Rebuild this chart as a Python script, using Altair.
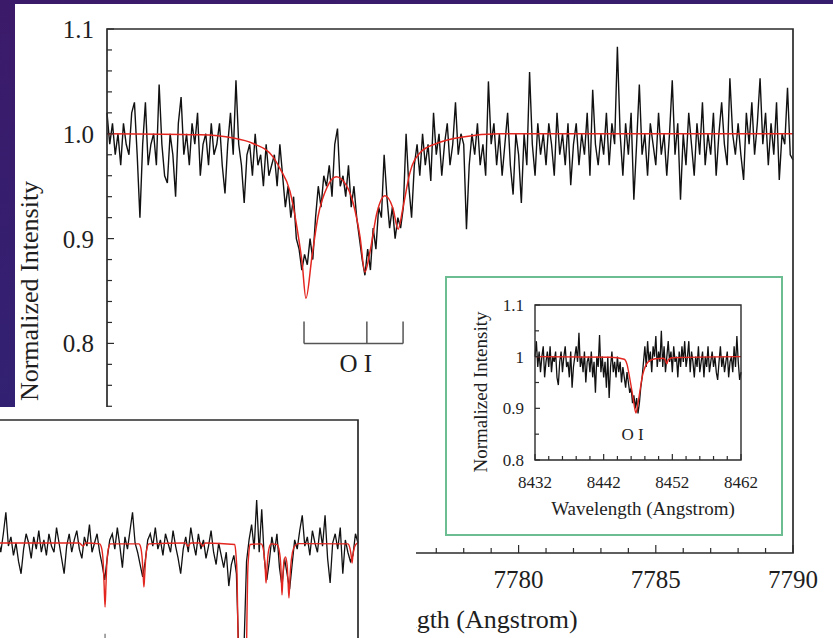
import altair as alt
import numpy as np
import pandas as pd

W, H = 833, 638
SERIF = "Liberation Serif"
INK = "#1e1e1e"
FRAME = "#2b2b2b"
RED = "#e3261f"

# ---------------- main panel: O I 7772-7775 triplet ----------------
MAIN_START, MAIN_STEP = 7765.0, 0.1
main_flux = [
    1.02, 0.99, 1.01, 0.98, 1.00, 0.97, 1.01, 0.99, 0.98, 1.02,
    1.03, 0.98, 0.92, 0.99, 1.03, 0.97, 0.99, 1.00, 0.97, 1.047,
    0.99, 0.96, 0.953, 1.00, 0.98, 0.94, 1.01, 1.035, 0.98, 1.00,
    0.97, 1.01, 0.99, 1.02, 0.96, 0.99, 1.00, 0.97, 1.01, 0.98,
    0.99, 1.01, 0.97, 0.943, 0.99, 1.02, 0.98, 1.051, 0.99, 0.97,
    0.934, 0.98, 0.99, 0.96, 1.00, 0.97, 0.98, 0.95, 0.99, 0.96,
    0.97, 0.98, 0.95, 0.99, 0.96, 0.93, 0.95, 0.92, 0.94, 0.90,
    0.89, 0.87, 0.885, 0.875, 0.90, 0.88, 0.92, 0.95, 0.93, 0.96,
    0.95, 0.97, 0.94, 0.99, 1.005, 0.95, 0.96, 0.94, 0.97, 0.93,
    0.95, 0.92, 0.90, 0.88, 0.865, 0.89, 0.87, 0.91, 0.89, 0.93,
    0.92, 0.98, 0.94, 0.91, 0.93, 0.90, 0.92, 0.91, 0.93, 1.00,
    0.95, 0.92, 0.97, 0.99, 0.96, 1.00, 0.97, 0.99, 0.955, 1.02,
    0.98, 1.00, 0.96, 0.99, 1.01, 0.97, 0.99, 1.03, 0.98, 1.00,
    0.99, 0.909, 0.97, 1.00, 0.98, 1.01, 0.97, 0.99, 0.96, 1.05,
    0.99, 1.01, 0.97, 1.00, 0.96, 0.99, 1.02, 0.97, 0.942, 1.00,
    0.98, 0.934, 1.00, 0.97, 1.059, 0.99, 0.96, 1.01, 0.98, 1.00,
    0.97, 1.01, 0.99, 0.96, 1.02, 0.98, 1.00, 0.97, 1.01, 0.951,
    0.99, 1.01, 0.97, 1.00, 0.98, 1.02, 0.96, 1.042, 0.99, 0.97,
    1.00, 0.98, 1.02, 0.97, 1.01, 0.99, 1.083, 1.00, 0.96, 1.01,
    0.98, 1.02, 0.937, 0.99, 1.047, 0.98, 1.00, 0.96, 1.01, 0.99,
    0.97, 1.02, 0.98, 1.00, 0.96, 1.00, 1.051, 0.98, 1.01, 0.937,
    1.00, 0.97, 1.02, 0.99, 0.96, 1.01, 0.98, 1.03, 0.97, 1.00,
    0.98, 1.02, 0.96, 1.00, 1.03, 0.99, 0.97, 1.053, 1.00, 0.98,
    1.01, 0.98, 0.956, 1.02, 0.99, 1.03, 0.98, 1.01, 1.053, 0.99,
    1.02, 0.97, 1.01, 0.98, 1.03, 0.956, 1.00, 0.99, 1.044, 0.98, 0.975,
]
main_model_wl = [
    7765.0, 7768.4, 7769.6, 7770.3, 7771.05, 7771.3, 7771.67, 7771.92, 7772.11,
    7772.25, 7772.47, 7772.69, 7773.02, 7773.35, 7773.67, 7773.97, 7774.22,
    7774.4, 7774.58, 7774.84, 7775.13, 7775.42, 7775.61, 7775.79, 7776.04,
    7776.41, 7777.03, 7777.97, 7779.3, 7790.0,
]
main_model_flux = [
    1.0, 0.999, 0.996, 0.991, 0.978, 0.967, 0.945, 0.911, 0.877,
    0.843, 0.883, 0.921, 0.949, 0.959, 0.953, 0.934, 0.902,
    0.868, 0.887, 0.925, 0.941, 0.929, 0.909, 0.930, 0.963,
    0.982, 0.991, 0.997, 1.0, 1.0,
]
main_y_major = [0.6, 0.7, 0.8, 0.9, 1.0, 1.1]
main_y_labels = ["0.6", "0.7", "0.8", "0.9", "1.0", "1.1"]
main_y_minor = [0.62, 0.64, 0.66, 0.68, 0.72, 0.74, 0.76, 0.78, 0.82, 0.84, 0.86,
                0.88, 0.92, 0.94, 0.96, 0.98, 1.02, 1.04, 1.06, 1.08]
main_x_major = [7765, 7770, 7775, 7780, 7785, 7790]
main_x_labels = ["7765", "7770", "7775", "7780", "7785", "7790"]
main_x_minor = [7766, 7767, 7768, 7769, 7771, 7772, 7773, 7774, 7776, 7777, 7778,
                7779, 7781, 7782, 7783, 7784, 7786, 7787, 7788, 7789]
oi_main_lines = [7772.18, 7774.47, 7775.79]

# ---------------- inset: O I 8446 ----------------
INSET_START, INSET_STEP = 8432.0, 0.2
inset_flux = [
    1.00, 1.03, 0.98, 1.01, 0.97, 1.00, 1.02, 0.96, 0.99, 1.01,
    0.98, 1.02, 0.97, 1.00, 0.99, 1.01, 0.96, 0.945, 0.99, 1.01,
    0.97, 1.00, 1.02, 0.98, 0.99, 0.96, 1.01, 0.94, 0.98, 1.00,
    1.02, 0.99, 1.046, 0.98, 1.00, 0.97, 1.01, 0.95, 0.99, 1.00,
    0.97, 1.01, 0.96, 0.99, 0.93, 1.00, 0.98, 1.042, 0.97, 1.00,
    0.96, 0.99, 0.94, 1.00, 0.92, 0.98, 1.01, 0.97, 0.99, 0.96,
    1.00, 0.97, 0.99, 0.95, 0.98, 0.96, 0.94, 0.97, 0.95, 0.93,
    0.94, 0.91, 0.925, 0.90, 0.92, 0.89, 0.91, 0.94, 0.96, 0.99,
    1.02, 0.98, 1.03, 0.99, 1.01, 0.97, 1.02, 1.00, 1.04, 0.98,
    1.01, 0.99, 1.05, 0.98, 1.02, 0.97, 1.00, 1.03, 0.99, 1.01,
    0.97, 1.02, 0.99, 1.00, 0.96, 1.01, 0.98, 1.02, 0.99, 1.03,
    0.98, 1.00, 1.03, 0.97, 1.01, 0.99, 0.96, 1.00, 0.98, 1.02,
    0.97, 0.99, 1.01, 0.96, 1.00, 0.98, 1.02, 0.97, 0.99, 1.01,
    0.98, 1.00, 0.97, 0.955, 0.99, 1.02, 0.98, 1.00, 0.97, 0.99,
    1.01, 0.96, 0.99, 1.00, 0.97, 1.02, 0.98, 1.04, 0.99, 0.955, 0.97,
]
inset_model_wl = [8432.0, 8443.0, 8445.0, 8445.4, 8445.8, 8446.1, 8446.4, 8446.7,
                  8447.0, 8447.3, 8447.6, 8447.9, 8448.5, 8449.5, 8450.7, 8451.0,
                  8451.2, 8451.4, 8452.0, 8462.0]
inset_model_flux = [1.0, 0.999, 0.995, 0.985, 0.958, 0.935, 0.91, 0.891,
                    0.91, 0.935, 0.96, 0.975, 0.99, 0.996, 0.997, 0.993,
                    0.986, 0.994, 0.998, 1.0]
inset_y_major = [0.8, 0.9, 1.0, 1.1]
inset_y_labels = ["0.8", "0.9", "1", "1.1"]
inset_y_minor = [0.85, 0.95, 1.05]
inset_x_major = [8432, 8442, 8452, 8462]
inset_x_labels = ["8432", "8442", "8452", "8462"]
inset_x_minor = [8434, 8436, 8438, 8440, 8444, 8446, 8448, 8450, 8454, 8456, 8458, 8460]

# ---------------- lower panel: wider spectral window ----------------
LOW_START, LOW_STEP = 5871.6, 0.2
low_flux = [
    1.01, 0.97, 1.03, 1.10, 0.99, 1.02, 0.96, 1.00, 0.94, 0.90,
    0.98, 1.03, 1.00, 0.95, 1.02, 0.98, 1.04, 0.97, 1.01, 0.96,
    1.03, 0.99, 0.97, 1.05, 1.00, 0.95, 0.90, 0.99, 1.03, 0.97,
    1.01, 1.04, 0.98, 0.95, 1.02, 0.99, 1.06, 0.97, 1.00, 1.03,
    0.97, 0.93, 0.88, 0.95, 1.01, 1.03, 0.98, 1.05, 0.99, 0.92,
    1.02, 0.98, 1.04, 1.10, 1.00, 0.97, 0.93, 0.89, 0.94, 1.01,
    1.03, 0.99, 1.05, 0.98, 1.01, 0.96, 1.03, 1.00, 0.97, 1.04,
    0.99, 0.95, 0.90, 0.98, 1.02, 0.97, 1.05, 1.00, 0.96, 1.03,
    0.98, 1.01, 0.95, 0.99, 1.04, 0.97, 0.93, 1.00, 0.96, 0.92,
    0.97, 0.86, 0.93, 0.96, 0.90, 0.62, 0.42, 0.66, 0.94, 1.01,
    1.06, 0.98, 1.14, 0.97, 1.11, 0.95, 0.88, 0.94, 1.02, 0.97,
    1.03, 0.92, 0.86, 0.95, 0.90, 0.85, 0.93, 1.01, 0.98, 1.04,
    1.09, 0.99, 1.02, 0.96, 1.04, 1.00, 0.97, 1.05, 0.99, 1.09,
    0.95, 0.87, 1.00, 1.03, 0.98, 1.05, 0.90, 1.01, 0.97, 0.94,
    0.96, 1.03, 1.00,
]
low_model_wl = [
    5870.0, 5878.0, 5878.29, 5878.5,
    5879.6, 5879.75, 5879.88, 5879.96, 5880.03, 5880.10, 5880.18, 5880.31, 5880.46,
    5882.7, 5882.85, 5882.97, 5883.04, 5883.1, 5883.16, 5883.23, 5883.35, 5883.5,
    5886.35, 5886.58, 5886.8, 5887.55, 5887.76, 5887.95,
    5890.27, 5890.37, 5890.45, 5890.53, 5890.62, 5890.75, 5890.87, 5890.99,
    5891.12, 5891.21, 5891.29, 5891.37, 5891.47,
    5892.35, 5892.5, 5892.62, 5892.69, 5892.74, 5892.8, 5892.87, 5892.99, 5893.15,
    5893.6, 5893.78, 5893.9, 5893.95, 5894.0, 5894.06, 5894.13, 5894.27, 5894.4,
    5894.47, 5894.55, 5894.62, 5894.7, 5894.83, 5895.0, 5895.3,
    5899.2, 5899.35, 5899.46, 5899.53, 5899.6, 5899.71, 5899.86, 5900.0,
]
low_model_flux = [
    1.0, 1.0, 0.99, 1.0,
    0.997, 0.985, 0.94, 0.86, 0.792, 0.86, 0.94, 0.985, 0.997,
    0.997, 0.985, 0.945, 0.895, 0.857, 0.895, 0.945, 0.985, 0.997,
    1.0, 0.99, 1.0, 1.0, 0.99, 1.0,
    0.995, 0.96, 0.90, 0.69, 0.45, 0.25, 0.2, 0.25,
    0.45, 0.69, 0.90, 0.96, 0.995,
    0.997, 0.985, 0.95, 0.905, 0.87, 0.905, 0.95, 0.985, 0.997,
    0.995, 0.975, 0.93, 0.88, 0.831, 0.88, 0.93, 0.955, 0.93,
    0.88, 0.821, 0.88, 0.93, 0.97, 0.99, 0.998,
    0.997, 0.985, 0.96, 0.935, 0.96, 0.985, 0.997, 1.0,
]
low_marker_wl = [5880.03]

ONE = pd.DataFrame({"k": [0]})


def lin(domain, rng):
    return alt.Scale(domain=domain, range=rng, nice=False, zero=False)


def box(x0, x1, y0, y1, **mark):
    return alt.Chart(ONE).mark_rect(**mark).encode(
        x=alt.value(x0), x2=alt.value(x1), y=alt.value(y0), y2=alt.value(y1))


def curve(wl, flux, sx, sy, color, width, interp="linear"):
    df = pd.DataFrame({"wl": wl, "flux": flux})
    return alt.Chart(df).mark_line(color=color, strokeWidth=width, interpolate=interp).encode(
        x=alt.X("wl:Q", scale=sx, axis=None), y=alt.Y("flux:Q", scale=sy, axis=None))


def frame(xd, yd, sx, sy, width):
    df = pd.DataFrame({"x0": [xd[0]], "x1": [xd[1]], "y0": [yd[0]], "y1": [yd[1]]})
    return alt.Chart(df).mark_rect(fillOpacity=0, stroke=FRAME, strokeWidth=width).encode(
        x=alt.X("x0:Q", scale=sx, axis=None), x2="x1:Q",
        y=alt.Y("y0:Q", scale=sy, axis=None), y2="y1:Q")


def yticks(vals, edge, sx, sy, length, width=1.2):
    df = pd.DataFrame({"v": vals, "edge": [edge] * len(vals)})
    return alt.Chart(df).mark_rule(color=FRAME, strokeWidth=width, x2Offset=length).encode(
        x=alt.X("edge:Q", scale=sx, axis=None), x2="edge:Q",
        y=alt.Y("v:Q", scale=sy, axis=None))


def xticks(vals, edge, sx, sy, length, width=1.2):
    df = pd.DataFrame({"v": vals, "edge": [edge] * len(vals)})
    return alt.Chart(df).mark_rule(color=FRAME, strokeWidth=width, y2Offset=-length).encode(
        x=alt.X("v:Q", scale=sx, axis=None),
        y=alt.Y("edge:Q", scale=sy, axis=None), y2="edge:Q")


def ylabels(vals, labs, edge, sx, sy, size, dx, dy):
    df = pd.DataFrame({"v": vals, "lab": labs, "edge": [edge] * len(vals)})
    return alt.Chart(df).mark_text(align="right", baseline="alphabetic", dx=dx, dy=dy,
                                   font=SERIF, fontSize=size, color=INK).encode(
        x=alt.X("edge:Q", scale=sx, axis=None), y=alt.Y("v:Q", scale=sy, axis=None),
        text="lab:N")


def xlabels(vals, labs, edge, sx, sy, size, dy):
    df = pd.DataFrame({"v": vals, "lab": labs, "edge": [edge] * len(vals)})
    return alt.Chart(df).mark_text(align="center", baseline="alphabetic", dy=dy,
                                   font=SERIF, fontSize=size, color=INK).encode(
        x=alt.X("v:Q", scale=sx, axis=None), y=alt.Y("edge:Q", scale=sy, axis=None),
        text="lab:N")


def note(text, x, y, sx, sy, size):
    df = pd.DataFrame({"x": [x], "y": [y], "t": [text]})
    return alt.Chart(df).mark_text(align="center", baseline="alphabetic", font=SERIF,
                                   fontSize=size, color=INK).encode(
        x=alt.X("x:Q", scale=sx, axis=None), y=alt.Y("y:Q", scale=sy, axis=None), text="t:N")


def title_text(text, x, y, size, angle=0):
    return alt.Chart(ONE).mark_text(text=text, align="center", baseline="alphabetic",
                                    angle=angle, font=SERIF, fontSize=size, color=INK).encode(
        x=alt.value(x), y=alt.value(y))


# scales (explicit pixel ranges place each panel on the page)
MX, MY = lin([7765, 7790], [107, 793]), lin([0.6, 1.1], [553, 29])
IX, IY = lin([8432, 8462], [535, 741]), lin([0.8, 1.1], [460, 305])
LX, LY = lin([5870, 5900], [-22, 358]), lin([0.4, 1.4], [727.5, 420])

main_wl = MAIN_START + MAIN_STEP * np.arange(len(main_flux))
inset_wl = INSET_START + INSET_STEP * np.arange(len(inset_flux))
low_wl = LOW_START + LOW_STEP * np.arange(len(low_flux))

backdrop = box(0, W, 0, H, fill=alt.Gradient(
    gradient="linear", x1=0, y1=0, x2=0.3, y2=1,
    stops=[alt.GradientStop(color="#3c1a6a", offset=0),
           alt.GradientStop(color="#2b2678", offset=1)]))

# main panel
bracket_v = pd.DataFrame({"x": oi_main_lines, "y0": [0.80] * 3, "y1": [0.821] * 3})
bracket_h = pd.DataFrame({"x0": [oi_main_lines[0]], "x1": [oi_main_lines[-1]], "y": [0.80]})
main_layers = [
    box(15, W, 4, H, fill="white"),
    curve(main_wl, main_flux, MX, MY, "#111111", 1.4),
    curve(main_model_wl, main_model_flux, MX, MY, RED, 1.5, "monotone"),
    frame([7765, 7790], [0.6, 1.1], MX, MY, 1.7),
    yticks(main_y_major, 7765, MX, MY, 7),
    yticks(main_y_minor, 7765, MX, MY, 5),
    xticks(main_x_major, 0.6, MX, MY, 8),
    xticks(main_x_minor, 0.6, MX, MY, 5),
    ylabels(main_y_major, main_y_labels, 7765, MX, MY, 25, -13, 9),
    xlabels(main_x_major, main_x_labels, 0.6, MX, MY, 25, 35),
    alt.Chart(bracket_v).mark_rule(color="#555555", strokeWidth=1.5).encode(
        x=alt.X("x:Q", scale=MX, axis=None), y=alt.Y("y0:Q", scale=MY, axis=None), y2="y1:Q"),
    alt.Chart(bracket_h).mark_rule(color="#555555", strokeWidth=1.5).encode(
        x=alt.X("x0:Q", scale=MX, axis=None), x2="x1:Q", y=alt.Y("y:Q", scale=MY, axis=None)),
    note("O I", 7774.07, 0.7724, MX, MY, 25),
    title_text("Normalized Intensity", 38, 291, 26, 270),
    title_text("Wavelength (Angstrom)", 452, 628, 26),
]

# inset
inset_layers = [
    box(446, 782, 277, 535, fill="white", stroke="#6dbd92", strokeWidth=2),
    curve(inset_wl, inset_flux, IX, IY, "#111111", 1.3),
    curve(inset_model_wl, inset_model_flux, IX, IY, RED, 1.4, "monotone"),
    frame([8432, 8462], [0.8, 1.1], IX, IY, 1.4),
    yticks(inset_y_major, 8432, IX, IY, 5),
    yticks(inset_y_minor, 8432, IX, IY, 4),
    xticks(inset_x_major, 0.8, IX, IY, 6),
    xticks(inset_x_minor, 0.8, IX, IY, 4),
    ylabels(inset_y_major, inset_y_labels, 8432, IX, IY, 17, -11, 6),
    xlabels(inset_x_major, inset_x_labels, 0.8, IX, IY, 17, 28),
    note("O I", 8446.2, 0.839, IX, IY, 17),
    title_text("Normalized Intensity", 487, 392, 19, 270),
    title_text("Wavelength (Angstrom)", 643, 515, 19),
]

# lower panel
marker = pd.DataFrame({"x": low_marker_wl, "y0": [0.705], "y1": [0.55]})
low_layers = [
    box(0, 416, 407, H, fill="white"),
    curve(low_wl, low_flux, LX, LY, "#111111", 1.3),
    curve(low_model_wl, low_model_flux, LX, LY, RED, 1.4, "monotone"),
    frame([5870, 5900], [0.4, 1.4], LX, LY, 1.7),
    alt.Chart(marker).mark_rule(color="#777777", strokeWidth=1.3).encode(
        x=alt.X("x:Q", scale=LX, axis=None), y=alt.Y("y0:Q", scale=LY, axis=None), y2="y1:Q"),
]

chart = (
    alt.layer(backdrop, *main_layers, *inset_layers, *low_layers)
    .resolve_scale(x="independent", y="independent")
    .properties(width=W, height=H, autosize=alt.AutoSizeParams(type="none"),
                padding=0, background="#3c1a6a")
    .configure_view(strokeWidth=0)
)

chart.save("out.html", embed_options={"renderer": "svg", "actions": False})
